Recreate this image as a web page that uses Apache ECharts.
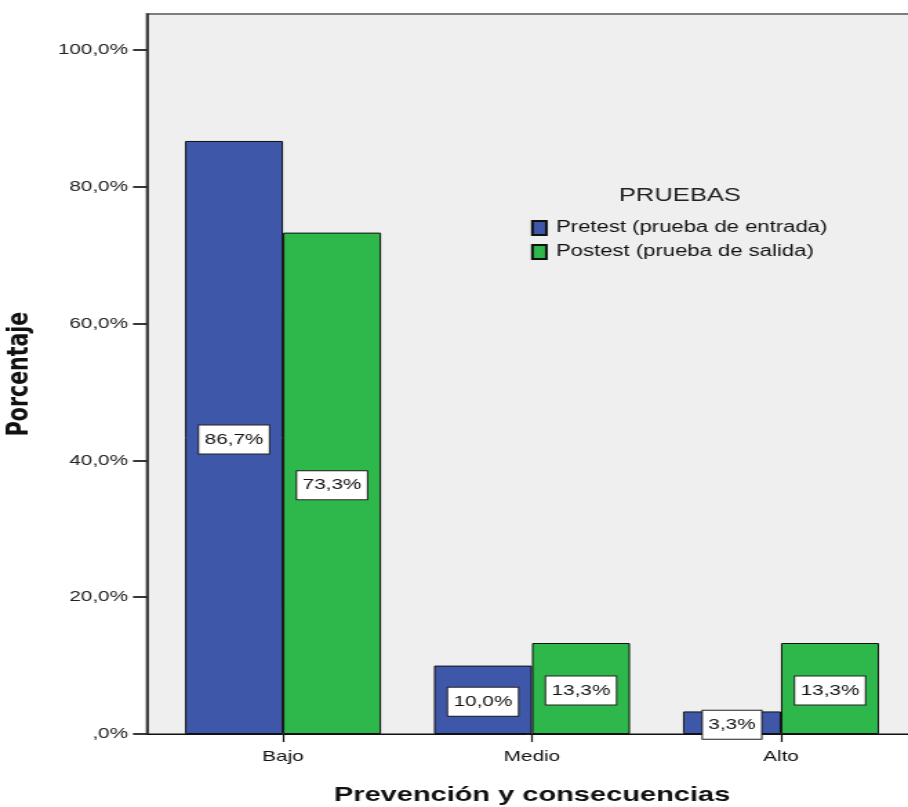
<!DOCTYPE html>
<html>
<head>
<meta charset="utf-8">
<script src="https://cdn.jsdelivr.net/npm/echarts@6/dist/echarts.min.js"></script>
<style>
  html, body { margin: 0; padding: 0; background: #ffffff; overflow: hidden; }
  /* The chart is laid out in a narrower box and widened horizontally,
     which gives the wide-set lettering of the exported SPSS figure. */
  #chart { width: 658px; height: 807px; transform-origin: 0 0; }
</style>
</head>
<body>
<div id="chart"></div>
<script>
// Niveles de la dimensión evaluada
const categories = ['Bajo', 'Medio', 'Alto'];
// Porcentajes por prueba
const pretest = [86.7, 10.0, 3.3];
const postest = [73.3, 13.3, 13.3];
const seriesNames = ['Pretest (prueba de entrada)', 'Postest (prueba de salida)'];
// Marcas del eje de porcentaje
const yTicks = [0, 20, 40, 60, 80, 100];

const W = 908;                 // final page width
const S = 1.38;                // horizontal widening factor
const el = document.getElementById('chart');
const innerW = Math.round(W / S);
el.style.width = innerW + 'px';
el.style.transform = 'scaleX(' + (W / innerW) + ')';
const sx = v => v * innerW / W;   // page x -> layout x

const fmtPct = v => (v === 0 ? ',0' : v.toFixed(1).replace('.', ',')) + '%';

const FONT = '"Liberation Sans", Arial, sans-serif';
const BLUE = '#3e57a8';
const GREEN = '#2eb84b';

const barLabel = {
  show: true,
  position: 'inside',
  offset: [0, 2],
  formatter: p => fmtPct(p.value),
  fontFamily: FONT,
  fontSize: 15,
  color: '#111',
  backgroundColor: '#ffffff',
  borderColor: '#222',
  borderWidth: 1,
  padding: [7, 4, 6, 4]
};

const plotLeft = 147, plotTop = 14, plotBottom = 807 - 734;
const bandLeft = 158.5, bandRight = 905.5;

const chart = echarts.init(el, null, { renderer: 'canvas' });

chart.setOption({
  animation: false,
  backgroundColor: '#ffffff',
  title: {
    text: 'PRUEBAS',
    left: sx(673),
    top: 181,
    textAlign: 'center',
    textStyle: { fontFamily: FONT, fontSize: 18.5, fontWeight: 'normal', color: '#222' }
  },
  legend: {
    orient: 'vertical',
    left: sx(531) - 5,
    top: 215,
    itemWidth: sx(14),
    itemHeight: 14,
    itemGap: 8,
    icon: 'rect',
    textStyle: { fontFamily: FONT, fontSize: 16, color: '#111', padding: [0, 0, 0, 2] },
    data: seriesNames
  },
  grid: [
    // marco gris del área de trazado
    { left: sx(plotLeft), right: -6, top: plotTop, bottom: plotBottom, show: true,
      backgroundColor: '#efefef', borderColor: '#7d7d7d', borderWidth: 2, z: 0,
      outerBoundsMode: 'none' },
    // área de las barras
    { left: sx(bandLeft), right: innerW - sx(bandRight), top: plotTop, bottom: plotBottom,
      outerBoundsMode: 'none' }
  ],
  xAxis: [
    {
      gridIndex: 0, type: 'category', data: [''],
      axisLine: { show: true, lineStyle: { color: '#111', width: 1 } },
      axisTick: { show: false }, axisLabel: { show: false }, splitLine: { show: false }
    },
    {
      gridIndex: 1, type: 'category', data: categories,
      name: 'Prevención y consecuencias',
      nameLocation: 'middle',
      nameGap: 51,
      nameTextStyle: { fontFamily: FONT, fontSize: 21, fontWeight: 'bold', color: '#111' },
      axisLine: { show: false },
      axisTick: { show: true, alignWithLabel: true, length: 8, lineStyle: { color: '#111', width: 1.2 } },
      axisLabel: { fontFamily: FONT, fontSize: 15, color: '#111', margin: 15 }
    }
  ],
  yAxis: [
    { gridIndex: 0, type: 'value', min: 0, max: 105.26, show: false },
    {
      gridIndex: 1, type: 'value', min: 0, max: 105.26, interval: 20,
      offset: sx(bandLeft) - sx(plotLeft),
      name: 'Porcentaje',
      nameLocation: 'middle',
      nameGap: 81,
      nameRotate: 90,
      nameTextStyle: { fontFamily: '"DejaVu Sans", sans-serif', fontSize: 20.5, fontWeight: 'bold', color: '#111' },
      axisLine: { show: true, lineStyle: { color: '#222', width: 1.5 } },
      axisTick: { show: true, length: sx(14), customValues: yTicks, lineStyle: { color: '#222', width: 1.8 } },
      axisLabel: { customValues: yTicks, formatter: v => fmtPct(v), fontFamily: FONT, fontSize: 15,
                   color: '#222', margin: sx(147) - sx(128) },
      splitLine: { show: false }
    }
  ],
  series: [
    {
      name: seriesNames[0], type: 'bar', xAxisIndex: 1, yAxisIndex: 1,
      data: pretest, barWidth: sx(98), barGap: '0%',
      itemStyle: { color: BLUE, borderColor: '#111', borderWidth: 1 },
      label: barLabel, z: 3
    },
    {
      name: seriesNames[1], type: 'bar', xAxisIndex: 1, yAxisIndex: 1,
      data: postest, barWidth: sx(98), barGap: '0%',
      itemStyle: { color: GREEN, borderColor: '#111', borderWidth: 1 },
      label: barLabel, z: 3
    }
  ]
});
</script>
</body>
</html>
